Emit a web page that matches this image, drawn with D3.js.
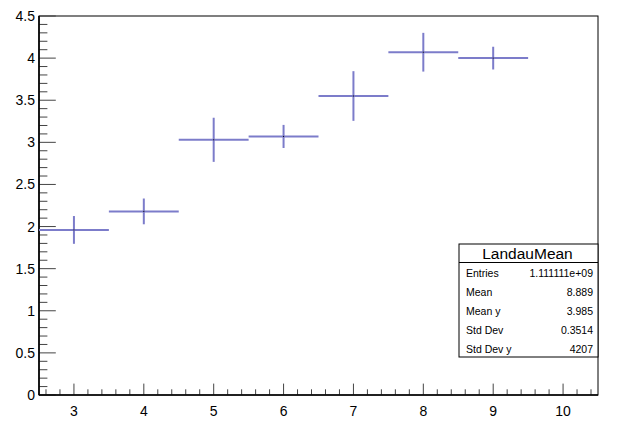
<!DOCTYPE html>
<html><head><meta charset="utf-8">
<script src="https://cdn.jsdelivr.net/npm/d3@7"></script>
<style>body{margin:0;background:#fff}svg{display:block}text{font-family:"Liberation Sans",Arial,sans-serif}</style>
</head><body>
<svg id="c" width="620" height="431"></svg>
<script>
const binCenters = [3, 4, 5, 6, 7, 8, 9];
const binValues = [1.96, 2.18, 3.03, 3.07, 3.55, 4.07, 4.0];
const binErrors = [0.165, 0.153, 0.262, 0.137, 0.295, 0.23, 0.135];
const binHalfWidth = 0.5;
const xTickLabels = [3, 4, 5, 6, 7, 8, 9, 10];
const yTickLabels = [0, 0.5, 1, 1.5, 2, 2.5, 3, 3.5, 4, 4.5];
const statsTitle = "LandauMean";
const statsNames = ["Entries", "Mean", "Mean y", "Std Dev", "Std Dev y"];
const statsValues = ["1.111111e+09", "8.889", "3.985", "0.3514", "4207"];

const svg = d3.select("#c");
const L = 39, R = 598, T = 16, B = 395;
const x = d3.scaleLinear().domain([2.5, 10.5]).range([L, R]);
const y = d3.scaleLinear().domain([0, 4.5]).range([B, T]);

// frame
svg.append("rect").attr("x", L).attr("y", T).attr("width", R - L).attr("height", B - T)
  .attr("fill", "none").attr("stroke", "#000").attr("stroke-width", 1);

// x ticks
const xMinor = d3.range(26, 106, 2).map(v => v / 10).filter(v => v > 2.5 && v < 10.5);
const xt = svg.append("g").attr("stroke", "#444").attr("stroke-width", 1);
xMinor.forEach(v => {
  const major = Math.abs(v - Math.round(v)) < 1e-6;
  xt.append("line").attr("x1", x(v)).attr("x2", x(v)).attr("y1", B).attr("y2", B - (major ? 11.4 : 5.7));
});
// y ticks
const yt = svg.append("g").attr("stroke", "#444").attr("stroke-width", 1);
d3.range(0, 46).map(v => v / 10).forEach(v => {
  const major = Math.abs(v * 2 - Math.round(v * 2)) < 1e-6;
  yt.append("line").attr("y1", y(v)).attr("y2", y(v)).attr("x1", L).attr("x2", L + (major ? 16.8 : 8.4));
});
// axis lines darker
svg.append("line").attr("x1", L).attr("x2", L).attr("y1", T).attr("y2", B).attr("stroke", "#000").attr("stroke-width", 1.6);
svg.append("line").attr("x1", L).attr("x2", R).attr("y1", B).attr("y2", B).attr("stroke", "#000").attr("stroke-width", 1.6);

// labels
svg.append("g").selectAll("text").data(xTickLabels).join("text")
  .attr("x", d => x(d)).attr("y", 416).attr("text-anchor", "middle")
  .attr("font-size", 14).attr("fill", "#000").text(d => d);
svg.append("g").selectAll("text").data(yTickLabels).join("text")
  .attr("x", 35).attr("y", d => y(d) + 5).attr("text-anchor", "end")
  .attr("font-size", 14).attr("fill", "#000").text(d => d);

// data
const col = "#7c7cca";
const g = svg.append("g").attr("stroke", col).attr("stroke-width", 2);
binCenters.forEach((c, i) => {
  g.append("line").attr("x1", x(c - binHalfWidth)).attr("x2", x(c + binHalfWidth))
    .attr("y1", y(binValues[i])).attr("y2", y(binValues[i]));
  g.append("line").attr("x1", x(c)).attr("x2", x(c))
    .attr("y1", y(binValues[i] + binErrors[i])).attr("y2", y(binValues[i] - binErrors[i]));
});
svg.append("g").selectAll("rect").data(binCenters).join("rect")
  .attr("x", d => x(d) - 0.5).attr("y", (d, i) => y(binValues[i]) - 0.5)
  .attr("width", 1).attr("height", 1).attr("fill", "#000");

// stats box
const bx = 459, by = 244, bw = 139, bh = 113;
svg.append("rect").attr("x", bx).attr("y", by).attr("width", bw).attr("height", bh)
  .attr("fill", "#fff").attr("stroke", "#000").attr("stroke-width", 1);
svg.append("line").attr("x1", bx).attr("x2", bx + bw).attr("y1", 262.5).attr("y2", 262.5)
  .attr("stroke", "#000").attr("stroke-width", 1);
svg.append("text").attr("x", bx + bw / 2 - 1).attr("y", 258.5).attr("text-anchor", "middle")
  .attr("font-size", 15.5).text(statsTitle);
statsNames.forEach((n, i) => {
  const yy = 276.5 + i * 19;
  svg.append("text").attr("x", 466).attr("y", yy).attr("font-size", 10.5).text(n);
  svg.append("text").attr("x", 593).attr("y", yy).attr("font-size", 10.5).attr("text-anchor", "end").text(statsValues[i]);
});
</script>
</body></html>
